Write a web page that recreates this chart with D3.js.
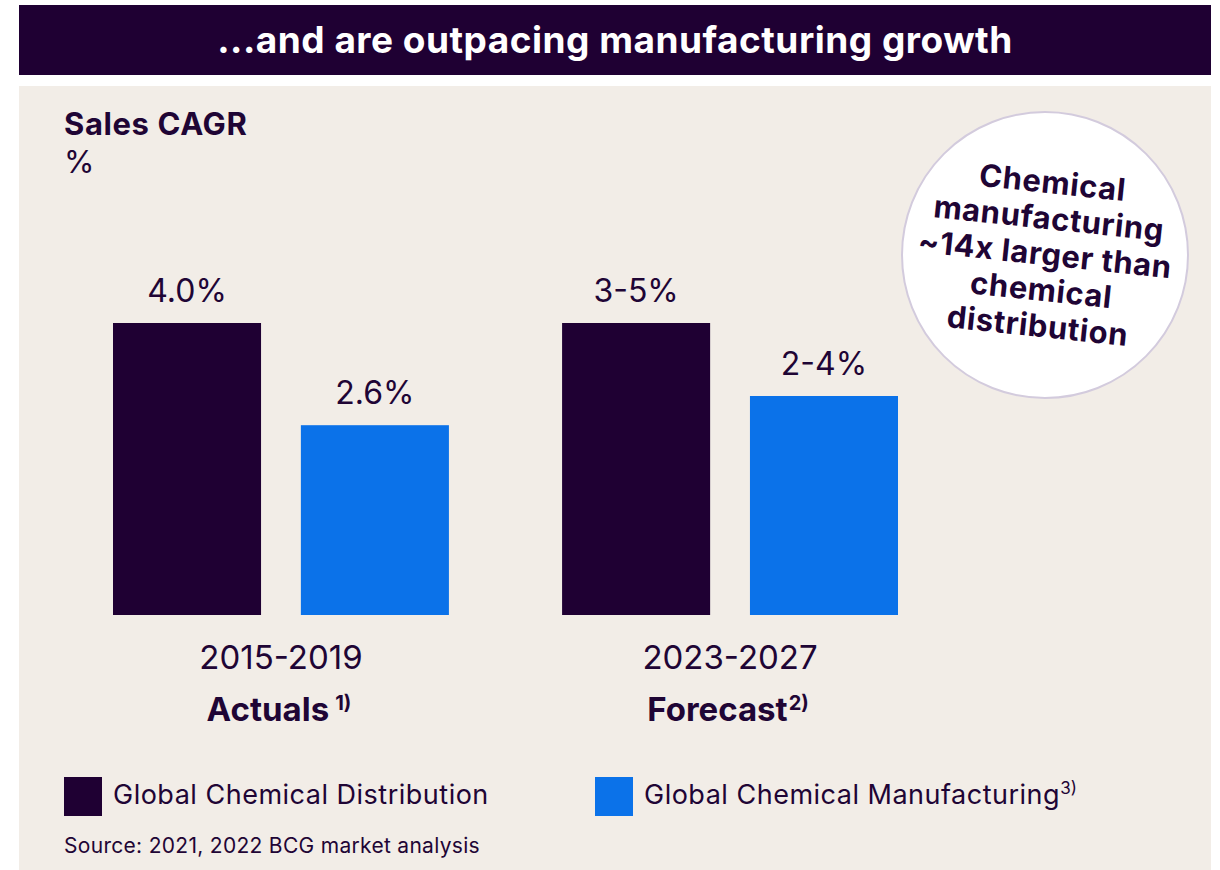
<!DOCTYPE html>
<html>
<head>
<meta charset="utf-8">
<script src="https://cdn.jsdelivr.net/npm/d3@7"></script>
<style>
  html, body { margin: 0; padding: 0; background: #ffffff; }
  svg { display: block; font-family: Inter, "Noto Sans", sans-serif; }
</style>
</head>
<body>
<svg id="chart" width="1220" height="870"></svg>
<script>
// Periods shown on the x axis
const periods = ["2015-2019", "2023-2027"];
const periodTypes = ["Actuals", "Forecast"];
const periodNotes = ["1)", "2)"];

// Series (legend order)
const seriesNames = ["Global Chemical Distribution", "Global Chemical Manufacturing"];
const seriesNotes = ["", "3)"];

// Sales CAGR in %, low and high end of each estimate
const distributionLow  = [4.0, 3];
const distributionHigh = [4.0, 5];
const manufacturingLow  = [2.6, 2];
const manufacturingHigh = [2.6, 4];

const titleText = "...and are outpacing manufacturing growth";
const calloutLines = ["Chemical", "manufacturing", "~14x larger than", "chemical", "distribution"];
const sourceText = "Source: 2021, 2022 BCG market analysis";

const colors = {
  ink: "#1f0535",
  dark: "#1f0033",
  blue: "#0b72e9",
  panel: "#f2ede7",
  ring: "#d3cbdd"
};

const svg = d3.select("#chart");

// Header band
svg.append("rect").attr("x", 19).attr("y", 5).attr("width", 1192).attr("height", 70).attr("fill", colors.dark);
svg.append("text")
  .attr("x", 615).attr("y", 53)
  .attr("text-anchor", "middle")
  .attr("fill", "#ffffff")
  .attr("font-weight", 700)
  .attr("font-size", 37)
  .attr("letter-spacing", 0.5)
  .text(titleText);

// Panel
svg.append("rect").attr("x", 19).attr("y", 86).attr("width", 1192).attr("height", 790).attr("fill", colors.panel);

// Axis title
svg.append("text").attr("x", 64).attr("y", 135).attr("fill", colors.ink)
  .attr("font-weight", 700).attr("font-size", 31).attr("letter-spacing", 0.6).text("Sales CAGR");
svg.append("text").attr("x", 64).attr("y", 173).attr("fill", colors.ink)
  .attr("font-size", 31).text("%");

// Rows: one per period, each bar carries value (midpoint) and its label
const fmt = (lo, hi) => lo === hi ? d3.format(".1f")(lo) + "%" : `${lo}-${hi}%`;
const rows = periods.map((p, i) => ({
  period: p,
  type: periodTypes[i],
  note: periodNotes[i],
  bars: [
    { series: seriesNames[0], value: (distributionLow[i] + distributionHigh[i]) / 2, label: fmt(distributionLow[i], distributionHigh[i]) },
    { series: seriesNames[1], value: (manufacturingLow[i] + manufacturingHigh[i]) / 2, label: fmt(manufacturingLow[i], manufacturingHigh[i]) }
  ]
}));

const x0 = d3.scaleBand().domain(periods).range([113, 898]).paddingInner(0.252).paddingOuter(0);
const x1 = d3.scaleBand().domain(seriesNames).range([0, x0.bandwidth()]).paddingInner(0.212).paddingOuter(0);
const y = d3.scaleLinear().domain([0, 4]).range([615, 323]);
const color = d3.scaleOrdinal().domain(seriesNames).range([colors.dark, colors.blue]);

const groups = svg.append("g").selectAll("g.period")
  .data(rows).join("g")
  .attr("class", "period")
  .attr("transform", d => `translate(${x0(d.period)},0)`);

groups.selectAll("rect.bar")
  .data(d => d.bars).join("rect")
  .attr("class", "bar")
  .attr("x", d => x1(d.series))
  .attr("width", x1.bandwidth())
  .attr("y", d => y(d.value))
  .attr("height", d => y(0) - y(d.value))
  .attr("fill", d => color(d.series));

groups.selectAll("text.value")
  .data(d => d.bars).join("text")
  .attr("class", "value")
  .attr("x", d => x1(d.series) + x1.bandwidth() / 2)
  .attr("y", d => y(d.value) - 21)
  .attr("text-anchor", "middle")
  .attr("fill", colors.ink)
  .attr("font-size", 32)
  .text(d => d.label);

// Period labels
groups.append("text")
  .attr("x", x0.bandwidth() / 2)
  .attr("y", 669)
  .attr("text-anchor", "middle")
  .attr("fill", colors.ink)
  .attr("font-size", 33)
  .text(d => d.period);

const typeLabel = groups.append("text")
  .attr("x", x0.bandwidth() / 2 - 2)
  .attr("y", 721)
  .attr("text-anchor", "middle")
  .attr("fill", colors.ink)
  .attr("font-weight", 700)
  .attr("font-size", 33);
typeLabel.append("tspan").text(d => d.type);
typeLabel.append("tspan")
  .attr("dy", -11)
  .attr("dx", (d, i) => i === 0 ? 6 : 1)
  .attr("font-size", 20)
  .text(d => d.note);

// Legend
const legend = svg.append("g").selectAll("g.legend")
  .data(seriesNames).join("g")
  .attr("class", "legend")
  .attr("transform", (d, i) => `translate(${[64, 595][i]},777)`);
legend.append("rect").attr("width", 38).attr("height", 39).attr("fill", d => color(d));
const legendText = legend.append("text")
  .attr("x", 49).attr("y", 27)
  .attr("fill", colors.ink)
  .attr("font-size", 27)
  .attr("letter-spacing", 0.5);
legendText.append("tspan").text(d => d);
legendText.append("tspan")
  .attr("dy", -10)
  .attr("font-size", 17)
  .attr("letter-spacing", 0)
  .text((d, i) => seriesNotes[i]);

// Source
svg.append("text").attr("x", 64).attr("y", 853).attr("fill", colors.ink)
  .attr("font-size", 21).attr("letter-spacing", 0.3).text(sourceText);

// Callout bubble
const cx = 1045, cy = 255;
svg.append("circle").attr("cx", cx).attr("cy", cy).attr("r", 143)
  .attr("fill", "#ffffff").attr("stroke", colors.ring).attr("stroke-width", 2);
svg.append("g")
  .attr("transform", `translate(${cx},${cy}) rotate(6)`)
  .selectAll("text")
  .data(calloutLines).join("text")
  .attr("x", 0)
  .attr("y", (d, i) => (i - 2) * 36 + 10)
  .attr("text-anchor", "middle")
  .attr("fill", colors.ink)
  .attr("font-weight", 700)
  .attr("font-size", 31)
  .attr("letter-spacing", 0.6)
  .text(d => d);
</script>
</body>
</html>
